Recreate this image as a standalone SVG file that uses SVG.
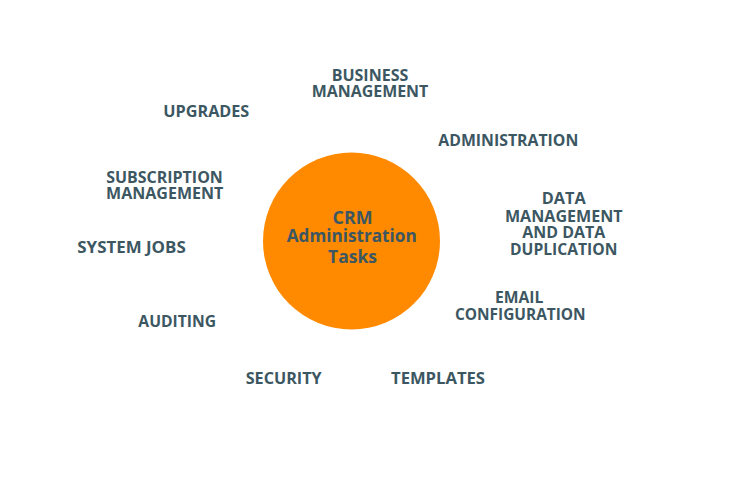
<svg xmlns="http://www.w3.org/2000/svg" width="740" height="481" viewBox="0 0 740 481">
<style>
.lbl{font-family:"Open Sans","Noto Sans","DejaVu Sans",sans-serif;font-weight:700;font-size:16px;fill:#3C5762;text-anchor:middle}
.ctr{font-family:"Open Sans","Noto Sans","DejaVu Sans",sans-serif;font-weight:700;font-size:18px;fill:#3C5762;text-anchor:middle}
</style>
<rect width="740" height="481" fill="#ffffff"/>
<g id="connectors"></g>
<g id="center">
<circle cx="351.5" cy="241" r="88.5" fill="#FF8A00"/>
<text class="ctr" x="352.5" y="224.3" textLength="40" lengthAdjust="spacingAndGlyphs">CRM</text>
<text class="ctr" x="351.7" y="242" textLength="130" lengthAdjust="spacingAndGlyphs">Administration</text>
<text class="ctr" x="352.5" y="263.3" textLength="49" lengthAdjust="spacingAndGlyphs">Tasks</text>
</g>
<g id="business-management">
<text class="lbl" x="370" y="81" textLength="76.6" lengthAdjust="spacingAndGlyphs">BUSINESS</text>
<text class="lbl" x="370" y="97" textLength="116.6" lengthAdjust="spacingAndGlyphs">MANAGEMENT</text>
</g>
<g id="upgrades">
<text class="lbl" x="206.3" y="117.3" textLength="86" lengthAdjust="spacingAndGlyphs">UPGRADES</text>
</g>
<g id="administration">
<text class="lbl" x="508.3" y="145.5" textLength="140" lengthAdjust="spacingAndGlyphs">ADMINISTRATION</text>
</g>
<g id="subscription-management">
<text class="lbl" x="164.5" y="183" textLength="116.7" lengthAdjust="spacingAndGlyphs">SUBSCRIPTION</text>
<text class="lbl" x="164.7" y="199" textLength="117.3" lengthAdjust="spacingAndGlyphs">MANAGEMENT</text>
</g>
<g id="data-management">
<text class="lbl" x="563.7" y="204.3" textLength="44" lengthAdjust="spacingAndGlyphs">DATA</text>
<text class="lbl" x="563.8" y="221.6" textLength="117.7" lengthAdjust="spacingAndGlyphs">MANAGEMENT</text>
<text class="lbl" x="563.8" y="238.3" textLength="83" lengthAdjust="spacingAndGlyphs">AND DATA</text>
<text class="lbl" x="563.7" y="255" textLength="107.3" lengthAdjust="spacingAndGlyphs">DUPLICATION</text>
</g>
<g id="system-jobs">
<text class="lbl" x="131.5" y="253.3" textLength="108.4" lengthAdjust="spacingAndGlyphs">SYSTEM JOBS</text>
</g>
<g id="email-configuration">
<text class="lbl" x="519.2" y="303.3" textLength="48.3" lengthAdjust="spacingAndGlyphs">EMAIL</text>
<text class="lbl" x="520.3" y="320" textLength="130.7" lengthAdjust="spacingAndGlyphs">CONFIGURATION</text>
</g>
<g id="auditing">
<text class="lbl" x="177.2" y="326.7" textLength="77.7" lengthAdjust="spacingAndGlyphs">AUDITING</text>
</g>
<g id="security">
<text class="lbl" x="283.7" y="384.3" textLength="76" lengthAdjust="spacingAndGlyphs">SECURITY</text>
</g>
<g id="templates">
<text class="lbl" x="438" y="384.3" textLength="94" lengthAdjust="spacingAndGlyphs">TEMPLATES</text>
</g>
</svg>
